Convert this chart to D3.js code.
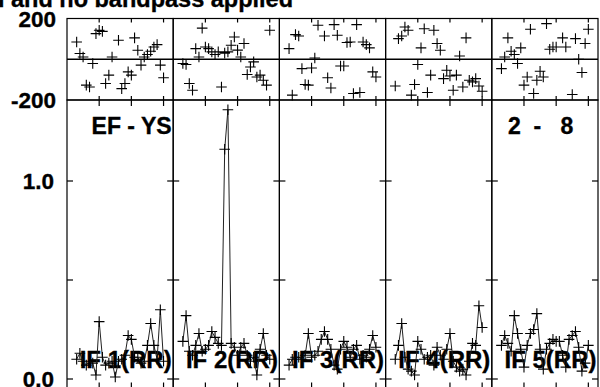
<!DOCTYPE html>
<html><head><meta charset="utf-8">
<script src="https://cdn.jsdelivr.net/npm/d3@7"></script>
<style>
body{margin:0;background:#fff}
svg{display:block}
text{font-family:"Liberation Sans",Arial,Helvetica,sans-serif;font-weight:bold;fill:#000;stroke:#000;stroke-width:0.35px}
</style>
</head><body>
<svg id="chart" width="600" height="387"></svg>
<script>
// ---------- data ----------
const titleText = "l and no bandpass applied";
const baselineLabel = "EF - YS";
const timeLabel = "2 - 8";
const ifLabels = ["IF 1(RR)", "IF 2(RR)", "IF 3(RR)", "IF 4(RR)", "IF 5(RR)"];
const channels = [3,4,5,6,7,8,9,10,11,12,13,14,15,16,17,18,19,20,21,22,23,24,25,26,27,28,29,30];
const channelTicks = [10, 20, 30];
const phaseTicks = [-200, 200];
const phaseTickLabels = ["-200", "200"];
const ampTicks = [0, 0.5, 1.0];
const ampTickLabels = ["0.0", "", "1.0"];

const phase1 = [85,28,11,-127,-136,-21,126,142,137,-119,-78,11,null,93,-144,-119,-62,-78,105,44,-29,11,23,39,60,72,-29,-91];
const phase2 = [-21,-26,-119,-152,52,11,153,60,52,36,23,36,-136,30,36,69,109,45,11,77,-75,-38,-13,-87,-78,-103,-127,142];
const phase3 = [52,-176,121,114,-46,-124,-127,-43,6,167,null,114,-91,-141,170,118,-33,-33,82,85,-168,170,-163,85,72,56,-62,-87];
const phase4 = [-131,101,114,158,142,-176,-124,-26,56,150,-163,-78,142,77,44,-95,-54,-82,-152,-78,16,-136,105,-103,-111,-95,-131,-157];
const phase5 = [-46,11,105,39,23,-21,56,-127,-87,147,-168,-103,-59,-87,175,49,60,60,null,105,60,null,-173,101,0,-65,77,147];

const amp1 = [0.10,0.13,0.09,0.07,0.09,0.08,0.02,0.29,0.11,0.07,0.08,0.09,0.01,0.09,0.10,0.12,0.22,0.20,0.11,0.11,0.08,0.09,0.17,0.28,0.17,0.10,0.35,0.09];
const amp2 = [0.19,0.32,0.14,0.12,0.17,0.23,0.14,0.15,0.17,0.24,0.21,0.18,0.17,1.16,1.36,0.18,0.16,0.12,0.16,0.18,0.12,0.09,0.11,0.02,0.15,0.23,0.12,0.10];
const amp3 = [0.07,0.10,0.11,0.11,0.10,0.12,0.23,0.11,0.12,0.14,0.20,0.24,0.20,0.15,0.07,0.05,0.15,0.19,0.16,0.11,0.15,0.17,0.10,0.12,0.11,0.15,0.22,0.16];
const amp4 = [0.10,0.17,0.28,0.11,0.05,0.04,0.02,0.19,0.15,0.10,0.11,0.12,0.07,0.16,0.12,0.10,0.15,0.23,0.09,0.06,0.04,0.05,0.02,0.09,0.18,0.17,0.37,0.26];
const amp5 = [0.17,0.22,0.18,0.14,0.32,0.23,0.15,0.06,0.17,0.23,0.25,0.33,0.15,0.05,0.15,0.18,0.20,0.19,0.19,0.12,0.06,0.20,0.22,0.24,0.16,0.04,0.08,0.17];

const phases = [phase1, phase2, phase3, phase4, phase5];
const amps = [amp1, amp2, amp3, amp4, amp5];

// ---------- layout ----------
const svg = d3.select("#chart");
const L = 67, R = 598, nP = 5, pw = (R - L) / nP;
const phTop = 18.5, phBot = 100, ampBot = 388.5;
const FS = 22.5, ARM = 5.3;

const yPh = d3.scaleLinear().domain([-200, 200]).range([phBot, phTop]);
const yAmp = d3.scaleLinear().domain([0, 1]).range([379, 181]);
const xCh = i => d3.scaleLinear().domain([0, 33]).range([L + i * pw, L + (i + 1) * pw]);

// title
svg.append("text").attr("x", 293).attr("y", 7).attr("text-anchor", "end")
  .style("font-size", "23.5px").text(titleText);

// y tick labels
phaseTicks.forEach((t, k) => {
  svg.append("text").attr("x", 56).attr("y", yPh(t) + 8).attr("text-anchor", "end")
    .style("font-size", FS + "px").text(phaseTickLabels[k]);
});
ampTicks.forEach((t, k) => {
  if (!ampTickLabels[k]) return;
  svg.append("text").attr("x", 54).attr("y", yAmp(t) + 8).attr("text-anchor", "end")
    .style("font-size", FS + "px").text(ampTickLabels[k]);
});

const frame = svg.append("g").attr("stroke", "#000").attr("fill", "none").attr("stroke-width", 1.2);
const labels = svg.append("g");
const dataG = svg.append("g");
const cross = (cx, cy) => `M${cx - ARM},${cy}H${cx + ARM}M${cx},${cy - ARM}V${cy + ARM}`;

for (let i = 0; i < nP; i++) {
  const x = xCh(i);
  const x0 = L + i * pw, x1 = x0 + pw;
  // boxes
  frame.append("rect").attr("x", x0).attr("y", phTop).attr("width", pw).attr("height", phBot - phTop);
  frame.append("rect").attr("x", x0).attr("y", phBot).attr("width", pw).attr("height", ampBot - phBot);
  frame.append("line").attr("x1", x0).attr("x2", x1).attr("y1", yPh(0)).attr("y2", yPh(0)).attr("stroke-width", 1.4);
  // channel ticks
  channelTicks.forEach(c => {
    const cx = x(c);
    frame.append("line").attr("x1", cx).attr("x2", cx).attr("y1", phTop).attr("y2", phTop + 4);
    frame.append("line").attr("x1", cx).attr("x2", cx).attr("y1", phBot - 4).attr("y2", phBot);
    frame.append("line").attr("x1", cx).attr("x2", cx).attr("y1", phBot).attr("y2", phBot + 6);
    frame.append("line").attr("x1", cx).attr("x2", cx).attr("y1", ampBot - 6).attr("y2", ampBot);
  });
  // amplitude ticks
  ampTicks.forEach(t => {
    const ty = yAmp(t);
    frame.append("line").attr("x1", x0).attr("x2", x0 + 6).attr("y1", ty).attr("y2", ty);
    frame.append("line").attr("x1", x1 - 6).attr("x2", x1).attr("y1", ty).attr("y2", ty);
  });
  // labels
  labels.append("text").attr("x", x1 - 1.5).attr("y", 367.5).attr("text-anchor", "end")
    .style("font-size", "24px").text(ifLabels[i]);

  // amplitude line + crosses
  const pts = channels.map((c, k) => [x(c), yAmp(amps[i][k])]);
  dataG.append("path").attr("d", d3.line()(pts)).attr("fill", "none")
    .attr("stroke", "#222").attr("stroke-width", 1);
  dataG.append("path").attr("d", pts.map(p => cross(p[0], p[1])).join(""))
    .attr("stroke", "#000").attr("stroke-width", 1.1).attr("fill", "none");
  // phase crosses
  const ph = channels.map((c, k) => phases[i][k] == null ? "" : cross(x(c), yPh(phases[i][k]))).join("");
  dataG.append("path").attr("d", ph).attr("stroke", "#000").attr("stroke-width", 1.1).attr("fill", "none");
}

labels.append("text").attr("x", L + pw - 1.5).attr("y", 133.5).attr("text-anchor", "end")
  .style("font-size", "23px").text(baselineLabel);
labels.append("text").attr("x", 508).attr("y", 133.5).attr("text-anchor", "start")
  .style("font-size", "23px").style("white-space", "pre").text("2  -   8");
</script>
</body></html>
